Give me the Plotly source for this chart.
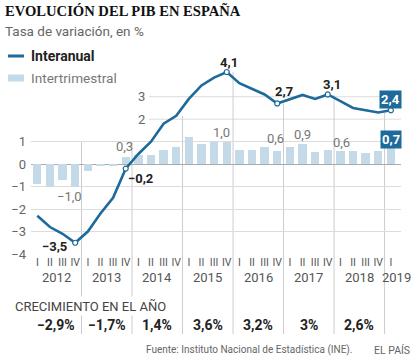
import plotly.graph_objects as go

# ---------------- data ----------------
quarters = ["I", "II", "III", "IV"] * 7 + ["I"]
years = ["2012", "2013", "2014", "2015", "2016", "2017", "2018", "2019"]
interanual = [-2.3, -2.8, -3.1, -3.5,
              -3.0, -2.2, -1.5, -0.2,
              0.45, 1.0, 1.8, 2.15,
              2.9, 3.5, 3.85, 4.1,
              3.6, 3.35, 3.1, 2.7,
              2.9, 3.08, 2.9, 3.1,
              2.8, 2.5, 2.4, 2.3,
              2.4]
intertrimestral = [-0.9, -1.0, -0.7, -1.0,
                   -0.3, -0.1, -0.1, 0.3,
                   0.4, 0.4, 0.65, 0.75,
                   1.2, 0.9, 1.0, 1.0,
                   0.65, 0.65, 0.75, 0.6,
                   0.75, 0.9, 0.55, 0.65,
                   0.6, 0.6, 0.5, 0.6,
                   0.7]
growth_labels = ["−2,9%", "−1,7%", "1,4%", "3,6%", "3,2%", "3%", "2,6%"]
y_ticks = [1, 0, -1, -2, -3, -4]
y_inner_ticks = [2, 3]

# ---------------- layout constants ----------------
W, H = 414, 360
ML, MR, MT, MB = 31, 13, 63, 106
XMIN, XMAX = -0.5, 28.8
YMIN, YMAX = -4, 4.5
BLUE = "#1d6a9b"
BARC = "#c5dae8"
SANS = "Roboto, 'Noto Sans', sans-serif"


def pxx(px):
    return (px - ML) / (W - ML - MR)


def pxy(py):
    return (H - MB - py) / (H - MT - MB)


def xp(idx):
    return (idx - XMIN) / (XMAX - XMIN)


def yp(val):
    return (val - YMIN) / (YMAX - YMIN)


def fmt(v):
    return f"{v:.1f}".replace(".", ",").replace("-", "−")


x = list(range(len(interanual)))

fig = go.Figure()
fig.add_bar(x=x, y=intertrimestral, marker=dict(color=BARC, line=dict(width=0)),
            width=0.66, showlegend=False, hoverinfo="skip")
fig.add_scatter(x=x, y=interanual, mode="lines",
                line=dict(color=BLUE, width=2.6), showlegend=False, hoverinfo="skip")
hl = [3, 7, 15, 19, 23, 28]
fig.add_scatter(x=hl, y=[interanual[i] for i in hl], mode="markers",
                marker=dict(size=5, color="white", line=dict(color=BLUE, width=1.2)),
                showlegend=False, hoverinfo="skip")

shapes = []
# partial gridlines at 2 and 3 (legend area excluded)
for v in y_inner_ticks:
    shapes.append(dict(type="line", xref="paper", yref="y", x0=pxx(149), x1=1,
                       y0=v, y1=v, line=dict(color="#dcdcdc", width=1), layer="below"))
# year separators
for k in range(7):
    q4 = 4 * k + 3
    top = max(interanual[q4], 1)
    xs = xp(q4 + 0.5)
    shapes.append(dict(type="line", xref="paper", yref="paper", x0=xs, x1=xs,
                       y0=yp(top), y1=pxy(334), line=dict(color="#cccccc", width=1),
                       layer="below"))
# legend keys
shapes.append(dict(type="line", xref="paper", yref="paper", x0=pxx(8), x1=pxx(24),
                   y0=pxy(56), y1=pxy(56), line=dict(color=BLUE, width=3)))
shapes.append(dict(type="rect", xref="paper", yref="paper", x0=pxx(8), x1=pxx(24),
                   y0=pxy(74.5), y1=pxy(81.5), fillcolor=BARC, line=dict(width=0)))

ann = []
# title / subtitle
ann.append(dict(text="<b>EVOLUCIÓN DEL PIB EN ESPAÑA</b>", xref="paper", yref="paper",
                x=pxx(3), y=pxy(11), xanchor="left", yanchor="middle", showarrow=False,
                font=dict(family="'Liberation Serif', serif", size=14.6, color="#111")))
ann.append(dict(text="Tasa de variación, en %", xref="paper", yref="paper",
                x=pxx(3), y=pxy(31), xanchor="left", yanchor="middle", showarrow=False,
                font=dict(family=SANS, size=13.5, color="#666")))
# legend labels
ann.append(dict(text="<b>Interanual</b>", xref="paper", yref="paper",
                x=pxx(29), y=pxy(56), xanchor="left", yanchor="middle", showarrow=False,
                font=dict(family=SANS, size=14, color="#222")))
ann.append(dict(text="Intertrimestral", xref="paper", yref="paper",
                x=pxx(29), y=pxy(78), xanchor="left", yanchor="middle", showarrow=False,
                font=dict(family=SANS, size=13.6, color="#777")))
# inner y labels
for v in y_inner_ticks:
    ann.append(dict(text=str(v), xref="paper", yref="y", x=pxx(147), y=v,
                    xanchor="right", yanchor="middle", showarrow=False,
                    font=dict(family=SANS, size=13, color="#666")))

# line labels (index, xshift, yshift, boxed)
line_lab = [(3, -21, -4, False), (7, 15, -9.5, False), (15, 2.5, 9.5, False),
            (19, 7, 11.5, False), (23, 4, 9.5, False), (28, 0, 10.5, True)]
for i, xs_, ys_, box in line_lab:
    a = dict(text=f"<b>{fmt(interanual[i])}</b>", xref="x", yref="y", x=i, y=interanual[i],
             xshift=xs_, yshift=ys_, showarrow=False, xanchor="center", yanchor="middle",
             font=dict(family=SANS, size=13, color="white" if box else "#222"))
    if box:
        a.update(bgcolor=BLUE, borderpad=1)
    ann.append(a)

# bar labels
bar_lab = [(3, -6, -9.5, False), (7, -1.5, 10.5, False), (15, -5.5, 9.5, False),
           (19, -2, 12.5, False), (21, 0, 9, False), (24, 1, 8.5, False),
           (28, 0, 9, True)]
for i, xs_, ys_, box in bar_lab:
    txt = fmt(intertrimestral[i])
    a = dict(text=f"<b>{txt}</b>" if box else txt, xref="x", yref="y", x=i,
             y=intertrimestral[i], xshift=xs_, yshift=ys_, showarrow=False,
             xanchor="center", yanchor="middle",
             font=dict(family=SANS, size=13, color="white" if box else "#777"))
    if box:
        a.update(bgcolor=BLUE, borderpad=1)
    ann.append(a)

# years
for k, yr in enumerate(years):
    if k < 7:
        ann.append(dict(text=yr, xref="paper", yref="paper", x=xp(4 * k + 1.5), y=pxy(277),
                        xanchor="center", yanchor="middle", showarrow=False,
                        font=dict(family=SANS, size=13, color="#555")))
    else:
        ann.append(dict(text=yr, xref="paper", yref="paper", x=pxx(413), y=pxy(277),
                        xanchor="right", yanchor="middle", showarrow=False,
                        font=dict(family=SANS, size=13, color="#555")))
# growth row
ann.append(dict(text="CRECIMIENTO EN EL AÑO", xref="paper", yref="paper",
                x=pxx(13), y=pxy(306), xanchor="left", yanchor="middle", showarrow=False,
                bgcolor="white", borderpad=1,
                font=dict(family=SANS, size=13, color="#444")))
for k, g in enumerate(growth_labels):
    ann.append(dict(text=f"<b>{g}</b>", xref="paper", yref="paper", x=xp(4 * k + 1.5),
                    y=pxy(325), xanchor="center", yanchor="middle", showarrow=False,
                    font=dict(family=SANS, size=14, color="#222")))
# source
ann.append(dict(text="Fuente: Instituto Nacional de Estadística (INE).", xref="paper",
                yref="paper", x=pxx(355), y=pxy(350), xanchor="right", yanchor="middle",
                showarrow=False, font=dict(family=SANS, size=10, color="#666")))
ann.append(dict(text="EL PAÍS", xref="paper", yref="paper", x=pxx(412), y=pxy(350),
                xanchor="right", yanchor="middle", showarrow=False,
                font=dict(family=SANS, size=10.5, color="#666")))

fig.update_layout(
    width=W, height=H, margin=dict(l=ML, r=MR, t=MT, b=MB),
    paper_bgcolor="white", plot_bgcolor="white",
    shapes=shapes, annotations=ann, bargap=0,
    xaxis=dict(range=[XMIN, XMAX], tickvals=x, ticktext=quarters, showgrid=False,
               zeroline=False, showline=False, ticks="",
               tickfont=dict(family=SANS, size=10.5, color="#555"), fixedrange=True),
    yaxis=dict(range=[YMIN, YMAX], tickvals=y_ticks,
               ticktext=[str(v).replace("-", "−") for v in y_ticks],
               showgrid=True, gridcolor="#dcdcdc", gridwidth=1,
               zeroline=True, zerolinecolor="#aaaaaa", zerolinewidth=1.3,
               showline=False, ticks="", ticklabelstandoff=4,
               tickfont=dict(family=SANS, size=13, color="#666"), fixedrange=True),
)

fig.write_html("out.html", config={"displayModeBar": False},
               post_script="document.body.style.margin='0';document.body.style.overflow='hidden';")
